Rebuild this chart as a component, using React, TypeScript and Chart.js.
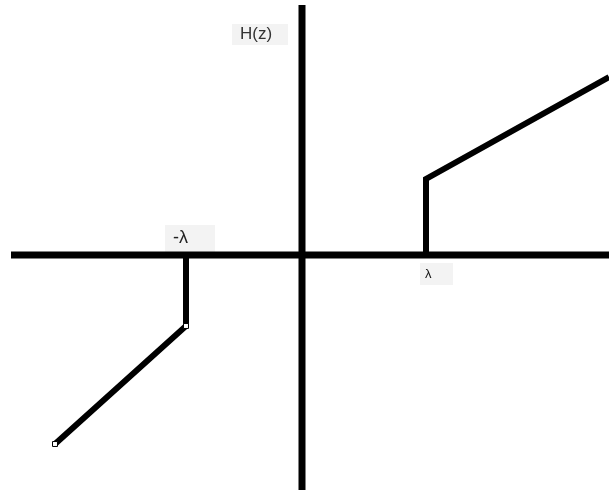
import React, { useEffect, useRef } from "react";
import { Chart, registerables } from "chart.js";

Chart.register(...registerables);

// Axis lines (data units; origin at the crossing of the axes)
const axisHX = [-2.91, 3.07];
const axisHY = [0, 0];
const axisVX = [0, 0];
const axisVY = [2.5, -2.35];

// Right branch of H(z): jump at λ then rising line
const rightX = [1.24, 1.24, 3.07];
const rightY = [0, 0.76, 1.78];

// Left branch of H(z): jump at -λ then falling line
const leftX = [-1.16, -1.16, -2.47];
const leftY = [0, -0.71, -1.89];

// Text labels
const labelText = ["H(z)", "-λ", "λ"];
const labelX = [-0.7, -1.37, 1.18];
const labelY = [2.31, 0.3, -0.08];

const toPts = (xs: number[], ys: number[]) => xs.map((x, i) => ({ x, y: ys[i] }));

const labelStyles = [
  { w: 56, h: 21, font: "17px 'Liberation Sans', Arial, sans-serif", color: "#333", pad: 8 },
  { w: 50, h: 27, font: "18px 'Liberation Sans', Arial, sans-serif", color: "#222", pad: 8 },
  { w: 33, h: 22, font: "13px 'Liberation Sans', Arial, sans-serif", color: "#111", pad: 5 },
];

const labelPlugin = {
  id: "labelBoxes",
  beforeDatasetsDraw(chart: any) {
    const ctx = chart.ctx;
    const xs = chart.scales.x;
    const ys = chart.scales.y;
    ctx.save();
    labelText.forEach((t, i) => {
      const st = labelStyles[i];
      const px = xs.getPixelForValue(labelX[i]);
      const py = ys.getPixelForValue(labelY[i]);
      ctx.fillStyle = "#f3f3f3";
      ctx.fillRect(px, py, st.w, st.h);
      ctx.font = st.font;
      ctx.fillStyle = st.color;
      ctx.textAlign = "left";
      ctx.textBaseline = "middle";
      ctx.fillText(t, px + st.pad, py + st.h / 2);
    });
    ctx.restore();
  },
};

export default function App() {
  const ref = useRef<HTMLCanvasElement>(null);

  useEffect(() => {
    if (!ref.current) return;
    const lineBase = {
      borderColor: "#000",
      backgroundColor: "#000",
      showLine: true,
      fill: false,
      tension: 0,
      borderJoinStyle: "miter" as const,
      borderCapStyle: "butt" as const,
      pointRadius: 0,
      clip: false as const,
    };
    const chart = new Chart(ref.current, {
      type: "scatter",
      data: {
        datasets: [
          { ...lineBase, data: toPts(axisHX, axisHY), borderWidth: 7 },
          { ...lineBase, data: toPts(axisVX, axisVY), borderWidth: 7 },
          { ...lineBase, data: toPts(rightX, rightY), borderWidth: 6 },
          {
            ...lineBase,
            data: toPts(leftX, leftY),
            borderWidth: 6,
            pointRadius: [0, 3.5, 3.5],
            pointStyle: "rect",
            pointBackgroundColor: "#fff",
            pointBorderColor: "#000",
            pointBorderWidth: 1,
          } as any,
        ],
      },
      options: {
        animation: false,
        responsive: false,
        maintainAspectRatio: false,
        layout: { padding: 0, autoPadding: false },
        plugins: { legend: { display: false }, tooltip: { enabled: false } },
        events: [],
        scales: {
          x: { type: "linear", min: -3.02, max: 3.07, display: false },
          y: { type: "linear", min: -2.35, max: 2.55, display: false },
        },
      },
      plugins: [labelPlugin],
    });
    return () => chart.destroy();
  }, []);

  return (
    <div style={{ position: "fixed", left: 0, top: 0, width: 609, height: 490, background: "#fff" }}>
      <canvas ref={ref} width={609} height={490} style={{ display: "block" }} />
    </div>
  );
}
